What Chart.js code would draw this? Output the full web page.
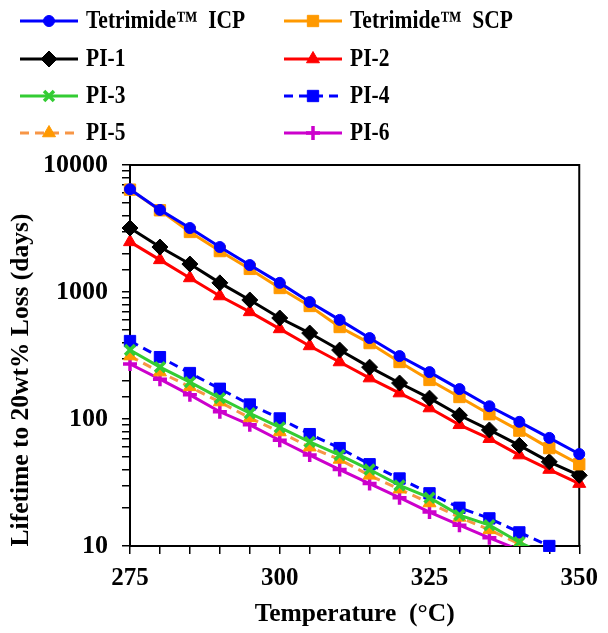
<!DOCTYPE html>
<html>
<head>
<meta charset="utf-8">
<script src="https://cdn.jsdelivr.net/npm/chart.js@4"></script>
<style>
  html, body { margin: 0; padding: 0; background: #fff; }
</style>
</head>
<body>
<canvas id="chart" width="608" height="633"></canvas>
<script>
// temperature (°C) and lifetime to 20wt% loss (days)
const temperatures = [275, 280, 285, 290, 295, 300, 305, 310, 315, 320, 325, 330, 335, 340, 345, 350];
const tetrimideIcp = [6450, 4430, 3190, 2260, 1630, 1180, 834, 603, 434, 313, 234, 172, 126, 95, 71, 53];
const tetrimideScp = [6400, 4400, 2970, 2100, 1520, 1075, 776, 530, 396, 281, 203, 149, 109, 81, 59, 44];
const pi1 = [3190, 2260, 1660, 1180, 865, 624, 475, 349, 256, 192, 146, 107, 82, 62, 46, 36];
const pi2 = [2480, 1790, 1290, 930, 697, 512, 376, 281, 210, 160, 122, 90, 70, 52, 40, 31];
const pi3 = [349, 256, 195, 146, 111, 86, 66, 52, 40, 30, 24, 17.5, 14.6, 10.7, 8.3, 6.5];
const pi4 = [411, 307, 230, 173, 130, 101, 76, 59, 44, 34, 26, 20, 16.5, 12.8, 10, null];
const pi5 = [313, 234, 179, 136, 102, 79, 60, 48, 36, 28, 21.8, 16.8, 13.4, 10.4, 8.0, 6.2];
const pi6 = [271, 206, 155, 114, 90, 68, 52, 40, 31, 24, 18.5, 14.6, 11.6, 9.3, 7.3, 5.7];

const yTicks = [10, 100, 1000, 10000];
const xTicks = [275, 300, 325, 350];
const yTitle = 'Lifetime to 20wt% Loss (days)';

const FONT = "'Liberation Serif', 'Times New Roman', serif";

function series(label, values, color, style, extra) {
    return Object.assign({
        label: label,
        data: temperatures.map((t, i) => ({ x: t, y: values[i] })),
        borderColor: color,
        backgroundColor: color,
        pointBackgroundColor: color,
        pointBorderColor: color,
        borderWidth: 3,
        pointStyle: style,
        pointRadius: 6,
        pointBorderWidth: 1,
        tension: 0,
        clip: { left: 10, top: 10, right: 10, bottom: 0 }
    }, extra || {});
}

const datasets = [
    series('Tetrimide™  ICP', tetrimideIcp, '#0000FF', 'circle', { pointRadius: 5.5 }),
    series('Tetrimide™  SCP', tetrimideScp, '#FF9900', 'rect', { pointRadius: 8 }),
    series('PI-1', pi1, '#000000', 'rectRot', { pointRadius: 8 }),
    series('PI-2', pi2, '#FF0000', 'triangle', { pointRadius: 7.5 }),
    series('PI-3', pi3, '#33CC33', 'crossRot', { pointRadius: 7, pointBorderWidth: 3.5 }),
    series('PI-4', pi4, '#0000FF', 'rect', { pointRadius: 8, borderDash: [9, 6], clip: { left: 10, top: 10, right: 10, bottom: 6 } }),
    series('PI-5', pi5, '#F79646', 'triangle', { pointRadius: 7.5, borderDash: [9, 6], pointBackgroundColor: '#FF9900', pointBorderColor: '#FF9900' }),
    series('PI-6', pi6, '#CC00CC', 'cross', { pointRadius: 7, pointBorderWidth: 3.5 })
];

// two-column legend above the plot (text is narrow in the original)
const legendBox = {
    id: 'legendBox',
    afterDraw(chart) {
        const ctx = chart.ctx;
        const colX = [20, 284];
        const rowY = [21, 59, 96, 133];
        ctx.save();
        chart.data.datasets.forEach((ds, i) => {
            const x = colX[i % 2];
            const y = rowY[Math.floor(i / 2)];
            ctx.strokeStyle = ds.borderColor;
            ctx.lineWidth = 3;
            ctx.setLineDash(ds.borderDash || []);
            ctx.beginPath();
            ctx.moveTo(x, y);
            ctx.lineTo(x + 58, y);
            ctx.stroke();
            ctx.setLineDash([]);
            ctx.fillStyle = ds.pointBackgroundColor;
            ctx.strokeStyle = ds.pointBorderColor;
            ctx.lineWidth = ds.pointBorderWidth;
            Chart.helpers.drawPoint(ctx, {
                pointStyle: ds.pointStyle,
                radius: ds.pointRadius,
                rotation: 0,
                borderWidth: ds.pointBorderWidth
            }, x + 29, y);

            ctx.save();
            ctx.translate(x + 66, y + 1);
            ctx.scale(0.86, 1);
            ctx.fillStyle = '#000';
            ctx.font = 'bold 25px ' + FONT;
            ctx.textBaseline = 'middle';
            ctx.textAlign = 'left';
            ctx.fillText(ds.label, 0, 0);
            ctx.restore();
        });
        ctx.restore();
    }
};

// frame edges and the y title (sits a little below the axis middle)
const frame = {
    id: 'frame',
    beforeDatasetsDraw(chart) {
        const a = chart.chartArea;
        const ctx = chart.ctx;
        ctx.save();
        ctx.strokeStyle = '#000';
        ctx.lineWidth = 2;
        ctx.beginPath();
        ctx.moveTo(a.left, a.top);
        ctx.lineTo(a.right, a.top);
        ctx.lineTo(a.right, a.bottom);
        ctx.stroke();

        ctx.translate(21, 380);
        ctx.rotate(-Math.PI / 2);
        ctx.fillStyle = '#000';
        ctx.font = 'bold 25.5px ' + FONT;
        ctx.textAlign = 'center';
        ctx.textBaseline = 'middle';
        ctx.fillText(yTitle, 0, 0);
        ctx.restore();
    }
};

new Chart(document.getElementById('chart'), {
    type: 'line',
    data: { datasets: datasets },
    options: {
        responsive: false,
        animation: false,
        layout: { padding: { top: 165, right: 24, left: 0, bottom: 0 } },
        plugins: {
            legend: { display: false },
            tooltip: { enabled: false }
        },
        scales: {
            x: {
                type: 'linear',
                min: 275,
                max: 350,
                border: { color: '#000', width: 2 },
                grid: { drawOnChartArea: false, drawTicks: true, tickLength: 8, color: '#000', lineWidth: 1.5 },
                ticks: {
                    stepSize: 5,
                    autoSkip: false,
                    maxRotation: 0,
                    padding: 10,
                    color: '#000',
                    font: { family: FONT, size: 25, weight: 'bold' },
                    callback: v => xTicks.includes(v) ? String(v) : ''
                },
                title: {
                    display: true,
                    text: 'Temperature  (°C)',
                    color: '#000',
                    font: { family: FONT, size: 25.5, weight: 'bold' },
                    padding: { top: 0, bottom: 3 }
                },
                afterFit: s => { s.height = 87; }
            },
            y: {
                type: 'logarithmic',
                min: 10,
                max: 10000,
                border: { color: '#000', width: 2 },
                grid: { drawOnChartArea: false, drawTicks: true, tickLength: 8, color: '#000', lineWidth: 1.5 },
                ticks: {
                    autoSkip: false,
                    padding: 14,
                    color: '#000',
                    font: { family: FONT, size: 26, weight: 'bold' },
                    callback: v => yTicks.includes(v) ? String(v) : ''
                },
                afterFit: s => { s.width = 130; }
            }
        }
    },
    plugins: [legendBox, frame]
});
</script>
</body>
</html>
